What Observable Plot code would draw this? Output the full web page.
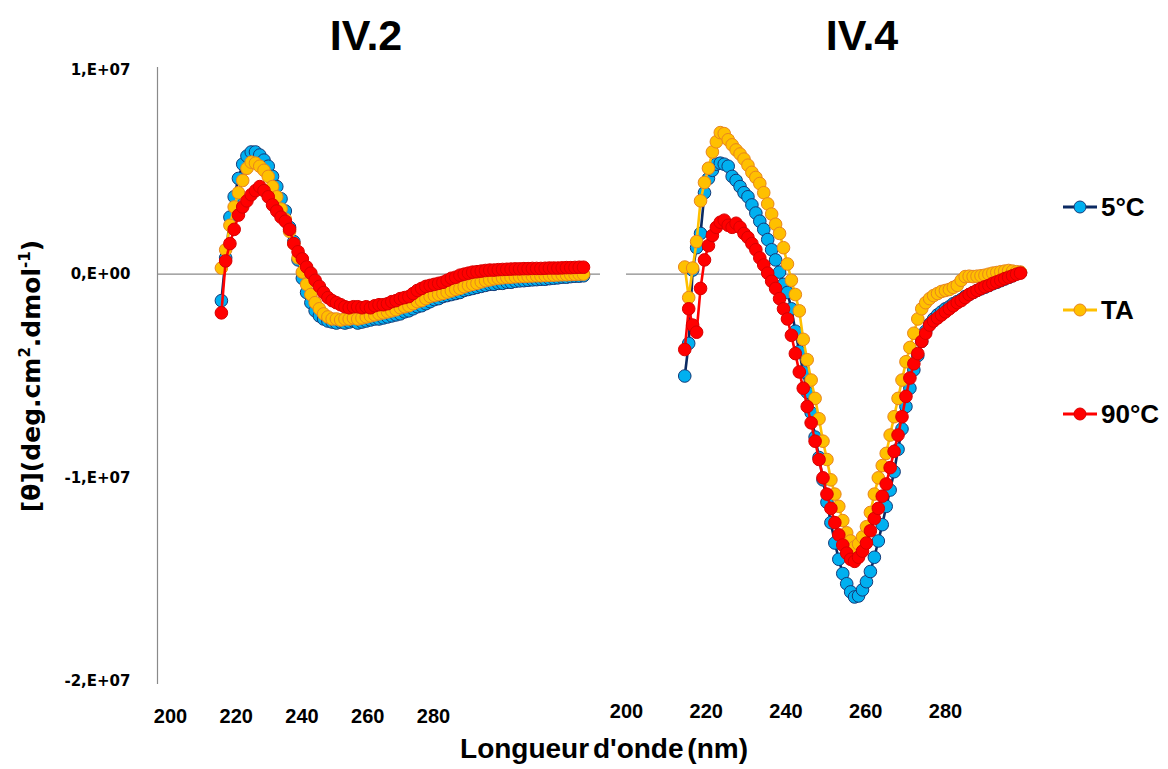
<!DOCTYPE html>
<html><head><meta charset="utf-8">
<script src="https://cdn.jsdelivr.net/npm/d3@7"></script>
<script src="https://cdn.jsdelivr.net/npm/@observablehq/plot@0.6"></script>
<style>
body{margin:0;background:#fff;}
#wrap{position:relative;width:1168px;height:769px;overflow:hidden;font-family:"Liberation Sans",Arial,sans-serif;color:#000;}
#wrap svg{position:absolute;left:0;top:0;}
.t{position:absolute;font-weight:bold;white-space:nowrap;line-height:1;}
</style></head>
<body><div id="wrap"></div>
<script>
// wavelength grid (nm)
const wavelengths = d3.range(215, 301);
// values in units of 1e6 deg.cm2.dmol-1
const iv2_5C = [-1.3,0.8,2.8,3.8,4.7,5.4,5.8,6.0,6.0,5.85,5.6,5.3,4.8,4.3,3.7,3.1,2.3,1.6,0.7,-0.2,-0.9,-1.4,-1.8,-2.05,-2.2,-2.3,-2.35,-2.4,-2.35,-2.4,-2.35,-2.3,-2.4,-2.35,-2.3,-2.25,-2.2,-2.2,-2.15,-2.1,-2.05,-2.0,-1.95,-1.85,-1.8,-1.7,-1.6,-1.55,-1.45,-1.35,-1.25,-1.2,-1.1,-1.05,-1.0,-0.95,-0.9,-0.8,-0.75,-0.7,-0.65,-0.6,-0.55,-0.5,-0.5,-0.45,-0.45,-0.4,-0.4,-0.35,-0.33,-0.32,-0.3,-0.28,-0.27,-0.25,-0.25,-0.22,-0.2,-0.18,-0.15,-0.15,-0.12,-0.1,-0.1,-0.08];
const iv2_TA = [0.3,1.2,2.4,3.3,4.0,4.6,5.2,5.5,5.45,5.3,5.1,4.8,4.3,3.8,3.2,2.7,2.1,1.5,0.8,0.1,-0.5,-1.0,-1.4,-1.7,-1.95,-2.1,-2.2,-2.2,-2.25,-2.2,-2.2,-2.15,-2.2,-2.15,-2.1,-2.05,-2.0,-1.95,-1.9,-1.85,-1.8,-1.75,-1.65,-1.6,-1.55,-1.45,-1.35,-1.3,-1.2,-1.1,-1.05,-1.0,-0.95,-0.88,-0.82,-0.75,-0.7,-0.62,-0.55,-0.5,-0.45,-0.38,-0.32,-0.28,-0.23,-0.2,-0.18,-0.16,-0.15,-0.13,-0.12,-0.11,-0.1,-0.09,-0.08,-0.08,-0.07,-0.06,-0.05,-0.04,-0.03,-0.03,-0.02,-0.01,0.0,0.0];
const iv2_90C = [-1.9,0.65,1.5,2.2,2.9,3.3,3.6,3.9,4.1,4.3,4.1,3.8,3.4,3.1,2.8,2.6,2.2,1.5,1.1,0.75,0.35,0.05,-0.3,-0.6,-0.9,-1.15,-1.3,-1.4,-1.5,-1.6,-1.65,-1.6,-1.6,-1.65,-1.6,-1.65,-1.55,-1.5,-1.5,-1.45,-1.35,-1.3,-1.2,-1.15,-1.1,-0.95,-0.8,-0.7,-0.6,-0.55,-0.5,-0.45,-0.4,-0.3,-0.2,-0.15,-0.05,0.0,0.05,0.1,0.12,0.15,0.18,0.2,0.2,0.22,0.23,0.24,0.25,0.26,0.26,0.27,0.27,0.28,0.28,0.28,0.29,0.3,0.3,0.3,0.31,0.32,0.32,0.33,0.34,0.34];
const iv4_5C = [-5.0,-3.4,0.2,1.3,2.0,4.0,4.7,5.1,5.4,5.45,5.4,5.3,4.8,4.6,4.3,4.0,3.8,3.4,3.0,2.6,2.2,1.7,1.2,0.7,0.1,-0.5,-0.9,-1.7,-2.8,-3.8,-4.8,-5.8,-6.8,-8.0,-9.0,-10.1,-11.2,-12.2,-13.2,-14.0,-14.7,-15.2,-15.6,-15.85,-15.8,-15.5,-15.1,-14.6,-13.9,-13.1,-12.3,-11.4,-10.6,-9.7,-8.6,-7.6,-6.5,-5.6,-4.7,-4.0,-3.3,-2.8,-2.45,-2.2,-2.0,-1.85,-1.7,-1.6,-1.45,-1.35,-1.25,-1.1,-1.0,-0.9,-0.8,-0.72,-0.64,-0.56,-0.47,-0.4,-0.32,-0.24,-0.16,-0.08,0.02,0.08];
const iv4_TA = [0.35,-1.15,0.3,1.6,3.6,4.5,5.2,6.0,6.5,6.95,6.9,6.6,6.35,6.1,5.9,5.65,5.35,5.0,4.75,4.45,4.0,3.45,2.95,2.45,2.0,1.3,0.5,-0.3,-1.0,-1.8,-3.2,-4.2,-5.2,-6.1,-7.1,-8.2,-9.1,-10.1,-10.8,-11.4,-12.1,-12.7,-13.1,-13.4,-13.25,-12.9,-12.4,-11.7,-10.8,-10.0,-9.4,-8.8,-7.9,-7.0,-6.1,-5.2,-4.3,-3.6,-2.9,-2.2,-1.7,-1.4,-1.2,-1.05,-0.95,-0.85,-0.8,-0.75,-0.65,-0.55,-0.3,-0.12,-0.1,-0.12,-0.1,-0.08,-0.05,0.0,0.05,0.08,0.12,0.15,0.18,0.15,0.12,0.1];
const iv4_90C = [-3.7,-1.7,-2.5,-2.85,-0.7,0.7,1.4,1.9,2.3,2.55,2.65,2.4,2.3,2.5,2.3,2.0,1.8,1.5,1.2,0.8,0.45,0.05,-0.35,-0.7,-1.2,-1.7,-2.2,-3.0,-3.9,-4.8,-5.6,-6.5,-7.3,-8.2,-9.1,-10.0,-10.8,-11.5,-12.2,-12.8,-13.3,-13.7,-14.0,-14.1,-13.9,-13.6,-13.2,-12.6,-12.0,-11.5,-10.9,-10.3,-9.5,-8.7,-7.9,-7.0,-6.0,-5.1,-4.4,-3.9,-3.3,-2.9,-2.5,-2.3,-2.15,-2.0,-1.85,-1.7,-1.55,-1.4,-1.3,-1.15,-1.0,-0.9,-0.8,-0.7,-0.62,-0.55,-0.45,-0.38,-0.3,-0.22,-0.15,-0.08,0.0,0.05];

const seriesNames = ["5°C", "TA", "90°C"];
const lineColors = ["#0B2A63", "#FFC000", "#FF0000"];
const fillColors = ["#00B0F0", "#FFC000", "#FF0000"];
const edgeColors = ["#163A78", "#E8851E", "#D80000"];
const yTicks = [1e7, 0, -1e7, -2e7];
const yTickLabels = ["1,E+07", "0,E+00", "-1,E+07", "-2,E+07"];
const xTicks = [200, 220, 240, 260, 280];
const panelTitles = ["IV.2", "IV.4"];

function rowsFor(arrs) {
  return arrs.map((arr, i) => arr.map((v, j) => ({series: seriesNames[i], nm: wavelengths[j], v: v * 1e6})));
}
const iv2 = rowsFor([iv2_5C, iv2_TA, iv2_90C]);
const iv4 = rowsFor([iv4_5C, iv4_TA, iv4_90C]);

const FONT = '"Liberation Sans", Arial, sans-serif';
const wrap = document.getElementById("wrap");

function seriesMarks(groups) {
  return groups.flatMap((rows, i) => [
    Plot.line(rows, {x: "nm", y: "v", stroke: lineColors[i], strokeWidth: 2.6}),
    Plot.dot(rows, {x: "nm", y: "v", r: 6.3, fill: fillColors[i], stroke: edgeColors[i], strokeWidth: 1})
  ]);
}

// Left panel (IV.2) with y axis
wrap.appendChild(Plot.plot({
  width: 600, height: 769, marginLeft: 157, marginRight: 0, marginTop: 67, marginBottom: 85,
  style: {background: "transparent", overflow: "visible"},
  x: {domain: [200, 300], range: [157, 583], axis: null},
  y: {domain: [-2e7, 1e7], range: [681, 70], axis: null},
  marks: [
    Plot.ruleX([200], {stroke: "#8a8a8a", strokeWidth: 1.2}),
    Plot.ruleY([0], {stroke: "#8a8a8a", strokeWidth: 1.2}),
    Plot.axisY(yTicks, {anchor: "left", label: null, tickSize: 0, tickPadding: 27, fontSize: 15, fontWeight: "bold",
      fontFamily: '"DejaVu Sans", sans-serif', fill: "#000", tickFormat: d => yTickLabels[yTicks.indexOf(d)]}),
    ...seriesMarks(iv2)
  ]
}));

// Right panel (IV.4)
wrap.appendChild(Plot.plot({
  width: 1022, height: 769, marginLeft: 626, marginRight: 0, marginTop: 67, marginBottom: 85,
  style: {background: "transparent", overflow: "visible"},
  x: {domain: [200, 300], range: [625, 1020], axis: null},
  y: {domain: [-2e7, 1e7], range: [681, 70], axis: null},
  marks: [
    Plot.ruleY([0], {stroke: "#8a8a8a", strokeWidth: 1.2}),
    ...seriesMarks(iv4)
  ]
}));

// x tick labels (as printed in the original layout)
function xAxisPlot(range, mb) {
  return Plot.plot({
    width: 1168, height: 769, marginLeft: 0, marginRight: 0, marginTop: 0, marginBottom: mb,
    style: {background: "transparent", overflow: "visible"},
    x: {domain: [200, 280], range, axis: null},
    y: {axis: null},
    marks: [Plot.axisX(xTicks, {anchor: "bottom", label: null, tickSize: 0, tickPadding: 0, fontSize: 20, fontWeight: "bold",
      fontFamily: FONT, fill: "#000"})]
  });
}
wrap.appendChild(xAxisPlot([170, 433], 61));
wrap.appendChild(xAxisPlot([626, 945], 66));

// titles
function addText(html, style) {
  const d = document.createElement("div");
  d.className = "t";
  d.innerHTML = html;
  Object.assign(d.style, style);
  wrap.appendChild(d);
  return d;
}
addText(panelTitles[0], {fontSize: "43px", left: "366px", top: "14px", transform: "translateX(-50%)"});
addText(panelTitles[1], {fontSize: "43px", left: "862px", top: "14px", transform: "translateX(-50%)"});
addText("Longueur d'onde (nm)", {fontSize: "28px", left: "604px", top: "735px", transform: "translateX(-50%)", wordSpacing: "-4px"});
addText('[θ](deg.cm<sup style="font-size:0.6em;vertical-align:0.7em">2</sup>.dmol<sup style="font-size:0.6em;vertical-align:0.7em">-1</sup>)',
  {fontSize: "25px", fontFamily: '"DejaVu Sans", sans-serif', left: "31px", top: "376px", transform: "translate(-50%,-50%) rotate(-90deg)"});

// legend
const legY = [207, 310, 414];
const leg = d3.select(wrap).append("svg").attr("width", 1168).attr("height", 769);
seriesNames.forEach((name, i) => {
  const g = leg.append("g");
  g.append("line").attr("x1", 1063).attr("x2", 1097).attr("y1", legY[i]).attr("y2", legY[i]).attr("stroke", lineColors[i]).attr("stroke-width", 3);
  g.append("circle").attr("cx", 1080).attr("cy", legY[i]).attr("r", 6).attr("fill", fillColors[i]).attr("stroke", edgeColors[i]).attr("stroke-width", 1);
  g.append("text").attr("x", 1101).attr("y", legY[i]).attr("dy", "0.36em").attr("font-family", FONT)
    .attr("font-weight", "bold").attr("font-size", 26).text(name);
});
</script>
</body></html>
